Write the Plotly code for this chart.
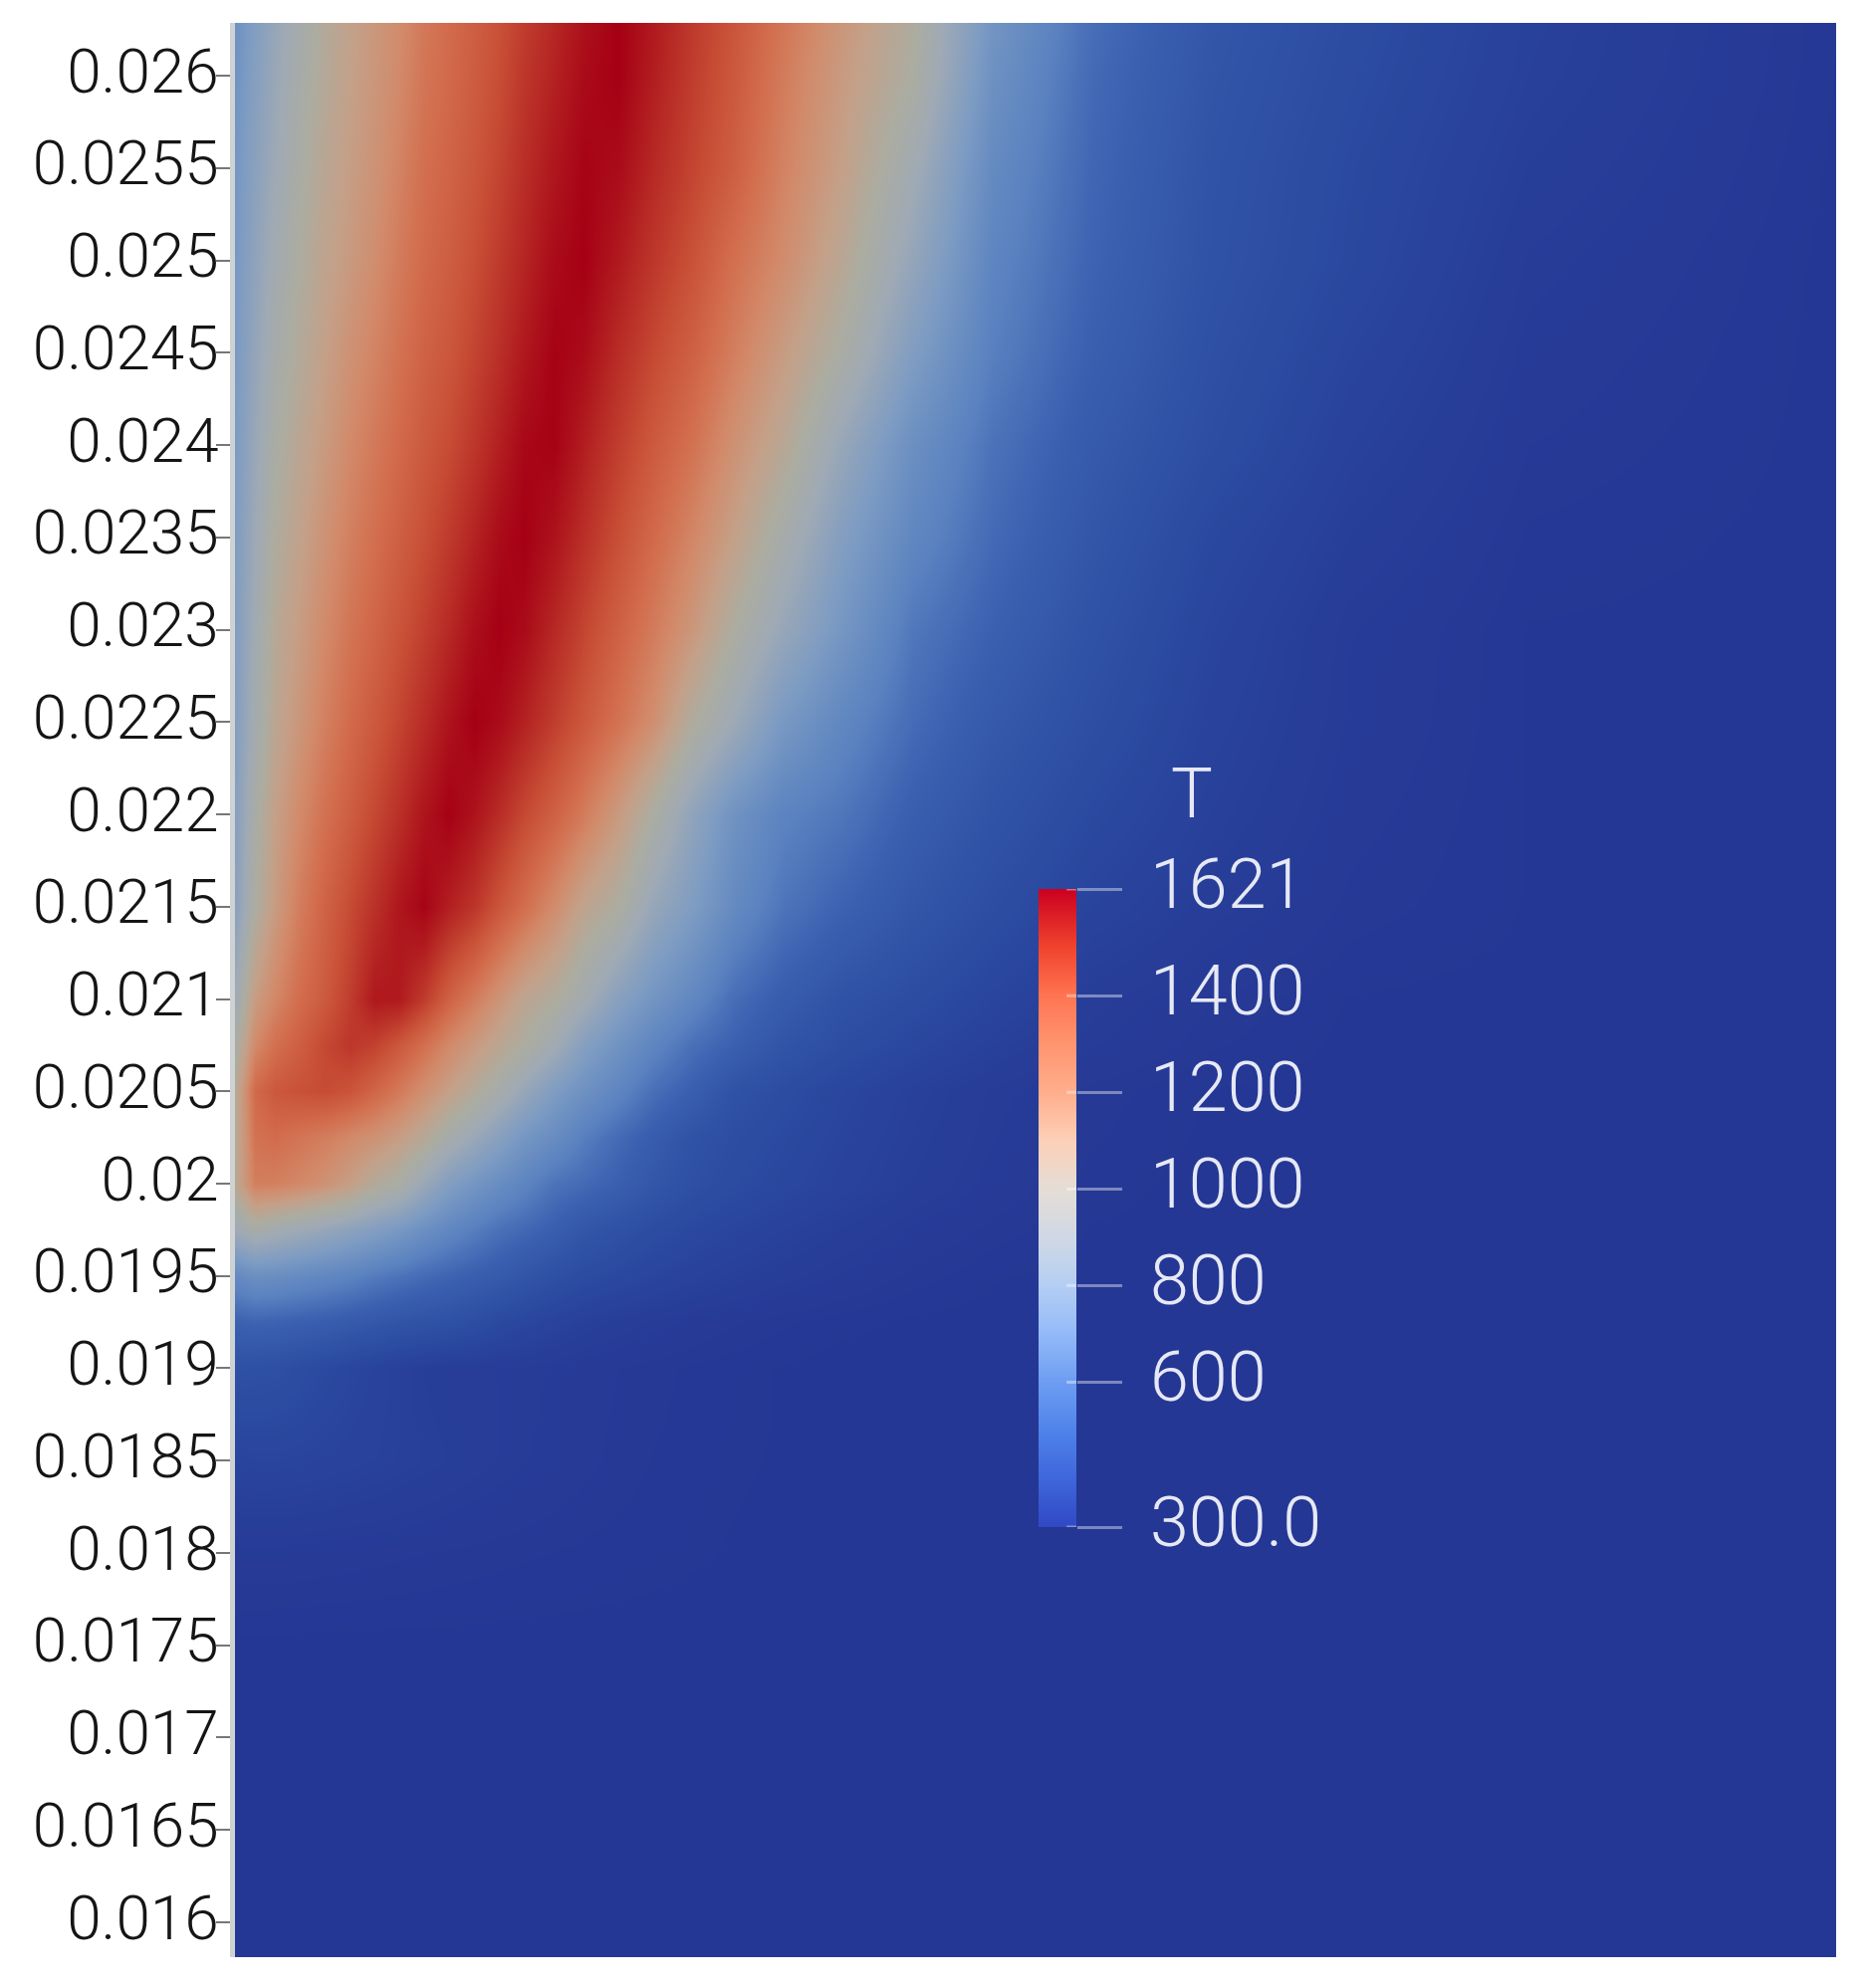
import plotly.graph_objects as go

# y position of each row of the temperature field
row_y = [0.0265, 0.026, 0.0255, 0.025, 0.0245, 0.024, 0.0235, 0.023, 0.0225, 0.022, 0.0215, 0.021,
         0.02075, 0.0205, 0.02025, 0.02, 0.01975, 0.0195, 0.01925, 0.019, 0.0185, 0.018, 0.0175, 0.0155]
# horizontal position of each column (no axis is shown for it in the picture)
col_x = [0, 20, 40, 65, 90, 115, 140, 165, 190, 215, 240, 265, 290, 320, 350, 385, 420, 460, 500, 550,
         610, 680, 760, 860, 980, 1120, 1300, 1608]

T_0265 = [680,770,850,940,1020,1085,1135,1185,1250,1300,1340,1385,1440,1500,1565,1621,1560,1470,1390,1280,1160,1020,730,550,455,405,350,303]
T_0260 = [700,790,870,960,1035,1095,1145,1200,1270,1310,1355,1405,1470,1530,1590,1621,1540,1450,1370,1250,1125,995,690,530,445,395,345,302]
T_0255 = [720,810,890,985,1055,1110,1160,1225,1290,1330,1375,1430,1495,1560,1610,1590,1510,1430,1350,1225,1100,915,650,520,435,385,335,301]
T_0250 = [730,830,920,1005,1075,1130,1185,1250,1310,1350,1400,1460,1520,1590,1621,1550,1470,1390,1290,1190,1050,850,620,510,430,380,325,300]
T_0245 = [740,850,950,1030,1100,1165,1220,1280,1335,1375,1430,1490,1555,1615,1590,1500,1420,1340,1240,1120,980,770,595,495,418,365,318,300]
T_0240 = [750,870,980,1060,1130,1200,1255,1310,1365,1410,1470,1535,1600,1615,1540,1450,1365,1280,1170,1050,860,680,555,470,405,350,312,300]
T_0235 = [760,890,1010,1090,1165,1235,1290,1345,1400,1460,1525,1590,1621,1570,1490,1400,1310,1210,1100,950,780,630,530,450,380,335,306,300]
T_0230 = [770,910,1040,1120,1200,1270,1325,1385,1445,1510,1580,1621,1590,1510,1430,1340,1250,1140,1000,860,720,570,500,430,365,322,302,300]
T_0225 = [780,930,1060,1150,1235,1305,1365,1430,1500,1570,1621,1590,1530,1450,1370,1280,1180,1010,890,735,630,535,465,410,355,320,302,300]
T_0220 = [790,970,1100,1200,1285,1350,1420,1490,1565,1618,1570,1500,1420,1340,1250,1130,990,830,700,610,565,490,435,385,345,315,302,300]
T_0215 = [800,1000,1125,1245,1335,1410,1485,1560,1610,1535,1475,1380,1295,1190,1075,1000,860,760,650,560,505,450,405,360,330,310,302,300]
T_0210 = [900,1120,1210,1300,1365,1450,1555,1550,1455,1335,1245,1155,1065,1010,920,800,710,630,540,480,430,400,365,330,312,302,300,300]
T_02075 = [970,1200,1290,1350,1420,1470,1440,1370,1290,1200,1130,1060,1000,910,790,700,620,545,500,440,405,375,345,322,308,301,300,300]
T_0205 = [1040,1310,1370,1395,1410,1385,1325,1255,1175,1100,1025,950,860,760,690,620,545,490,430,400,370,345,325,310,302,300,300,300]
T_02025 = [1040,1280,1300,1270,1240,1200,1165,1110,1040,945,870,795,720,660,590,530,480,430,405,385,362,340,322,308,301,300,300,300]
T_0200 = [1050,1240,1235,1205,1165,1110,1030,975,870,775,715,665,615,555,530,495,450,415,395,375,355,335,318,305,300,300,300,300]
T_01975 = [900,960,930,895,860,820,780,735,680,630,590,550,525,490,450,425,400,380,365,350,335,320,310,302,300,300,300,300]
T_0195 = [640,680,670,650,630,610,580,555,530,510,490,470,445,417,395,380,365,352,342,330,320,310,303,300,300,300,300,300]
T_01925 = [500,510,505,495,485,470,455,440,430,420,405,385,370,355,342,333,325,318,313,308,304,301,300,300,300,300,300,300]
T_0190 = [420,418,414,400,385,370,358,345,335,330,328,326,325,320,315,312,309,306,304,302,300,300,300,300,300,300,300,300]
T_0185 = [360,365,365,362,358,354,350,345,340,335,330,326,322,318,314,310,307,305,303,302,301,300,300,300,300,300,300,300]
T_0180 = [318,318,318,317,316,315,314,313,312,311,310,309,308,307,306,305,304,303,302,301,300,300,300,300,300,300,300,300]
T_0175 = [300,300,300,300,300,300,300,300,300,300,300,300,300,300,300,300,300,300,300,300,300,300,300,300,300,300,300,300]
T_0155 = [300,300,300,300,300,300,300,300,300,300,300,300,300,300,300,300,300,300,300,300,300,300,300,300,300,300,300,300]

field_rows = [T_0265, T_0260, T_0255, T_0250, T_0245, T_0240, T_0235, T_0230, T_0225, T_0220, T_0215, T_0210,
              T_02075, T_0205, T_02025, T_0200, T_01975, T_0195, T_01925, T_0190, T_0185, T_0180, T_0175, T_0155]

y_ticks = [0.016, 0.0165, 0.017, 0.0175, 0.018, 0.0185, 0.019, 0.0195, 0.02, 0.0205, 0.021,
           0.0215, 0.022, 0.0225, 0.023, 0.0235, 0.024, 0.0245, 0.025, 0.0255, 0.026]
y_tick_text = ["0.016", "0.0165", "0.017", "0.0175", "0.018", "0.0185", "0.019", "0.0195", "0.02", "0.0205", "0.021",
               "0.0215", "0.022", "0.0225", "0.023", "0.0235", "0.024", "0.0245", "0.025", "0.0255", "0.026"]

bar_ticks = [300, 600, 800, 1000, 1200, 1400, 1621]
bar_tick_text = ["300.0", "600", "800", "1000", "1200", "1400", "1621"]
bar_y = [300, 360, 420, 480, 540, 600, 660, 720, 780, 840, 900, 960, 1020, 1080, 1140, 1200, 1260, 1320, 1380, 1440, 1500, 1560, 1621]

T_MIN, T_MAX = 300, 1621

# colours of the field (darker, "lit" version)
field_T = [300, 400, 500, 600, 750, 900, 1000, 1100, 1200, 1300, 1400, 1500, 1621]
field_col = ["#253794", "#2c4ca2", "#3a60b0", "#5a82c0", "#7c9bc3", "#a0aab4", "#acaca0",
             "#c4a088", "#d28a6a", "#d26c4c", "#c84f36", "#b82c26", "#a50014"]
# colours of the colour bar
bar_T = [300, 400, 500, 600, 700, 800, 900, 1000, 1100, 1200, 1300, 1400, 1500, 1621]
bar_col = ["#3048c4", "#3f66da", "#4f82ea", "#6d9df2", "#93baf8", "#b4cef4", "#d0d8e4", "#e4ddd6",
           "#fcd0b8", "#ffae8c", "#ff9470", "#ff7552", "#f0452e", "#cc0020"]


def scale(levels, colours):
    return [[(t - T_MIN) / (T_MAX - T_MIN), c] for t, c in zip(levels, colours)]


# the page body has an 8 px margin
OFF = 8
W, H = 1873 - 2 * OFF, 1997 - 2 * OFF
L, R, T, B = 236 - OFF, 1844 - OFF, 23 - OFF, 1966 - OFF
BAR_L, BAR_R, BAR_T, BAR_B = 1043 - OFF, 1081 - OFF, 893 - OFF, 1534 - OFF

fig = go.Figure()
fig.add_trace(go.Heatmap(x=col_x, y=row_y[::-1], z=field_rows[::-1], zmin=T_MIN, zmax=T_MAX,
                         colorscale=scale(field_T, field_col), zsmooth="best", showscale=False,
                         hoverinfo="skip"))
fig.add_trace(go.Heatmap(x=[0, 1], y=bar_y, z=[[v, v] for v in bar_y], zmin=T_MIN, zmax=T_MAX,
                         colorscale=scale(bar_T, bar_col), zsmooth="best", showscale=False,
                         xaxis="x2", yaxis="y2", hoverinfo="skip"))

LABEL_FONT = dict(family="Roboto, Liberation Sans, sans-serif", size=70, color="#e6e9f5", weight=300)

fig.update_layout(
    width=W, height=H, autosize=False,
    margin=dict(l=L, r=W - R, t=T, b=H - B, pad=0),
    paper_bgcolor="white", plot_bgcolor="#253794", showlegend=False,
    xaxis=dict(visible=False, range=[0, 1608], domain=[0, 1], automargin=False),
    yaxis=dict(range=[0.015811, 0.026286], domain=[0, 1], tickmode="array", tickvals=y_ticks,
               ticktext=y_tick_text, ticks="outside", ticklen=14, tickwidth=2, tickcolor="#777777",
               showline=True, linecolor="#cfd2d2", linewidth=5, showgrid=False, zeroline=False,
               automargin=False, ticklabelstandoff=-15, ticklabelshift=-5,
               tickfont=dict(family="Roboto, Liberation Sans, sans-serif", size=62, color="#151515", weight=300)),
    xaxis2=dict(visible=False, range=[0, 1], anchor="y2", automargin=False,
                domain=[(BAR_L - L) / (R - L), (BAR_R - L) / (R - L)]),
    yaxis2=dict(range=[T_MIN, T_MAX], anchor="x2", side="right", showgrid=False, zeroline=False,
                domain=[(B - BAR_B) / (B - T), (B - BAR_T) / (B - T)],
                tickmode="array", tickvals=bar_ticks, ticktext=bar_tick_text, automargin=False,
                ticks="outside", ticklen=45, tickwidth=3, tickcolor="rgba(255,255,255,0.4)",
                ticklabelstandoff=14, ticklabelshift=-6, tickfont=LABEL_FONT, showline=False),
    annotations=[dict(text="T", xref="paper", yref="paper", x=(1197 - OFF - L) / (R - L), y=(B - (797 - OFF)) / (B - T),
                      showarrow=False, xanchor="center", yanchor="middle", font=LABEL_FONT)],
    shapes=[dict(type="line", xref="x2", yref="y2", x0=0.74, x1=1, y0=v, y1=v,
                 line=dict(color="rgba(255,255,255,0.4)", width=3)) for v in bar_ticks],
)

fig.write_html("out.html")
